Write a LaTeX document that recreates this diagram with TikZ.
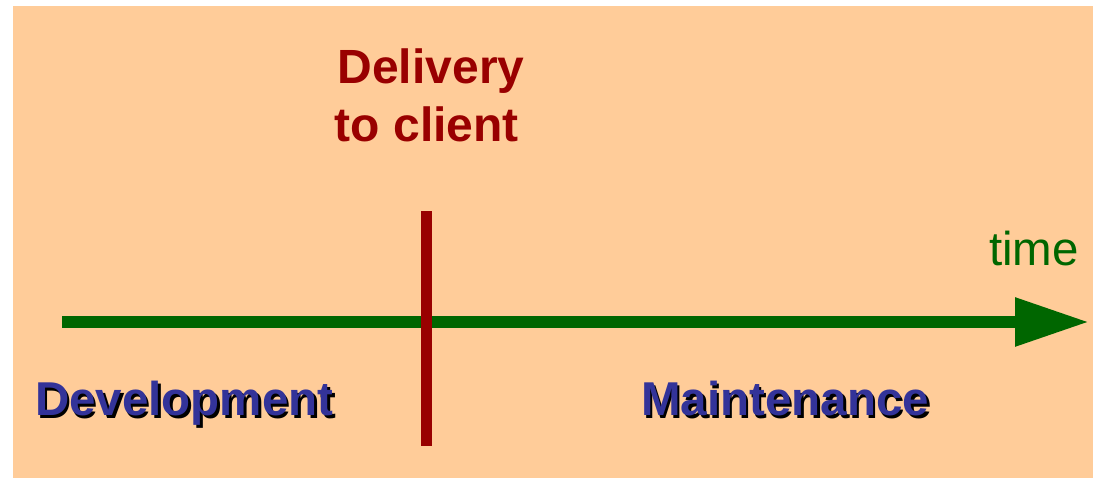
\documentclass[tikz,border=0pt]{standalone}
\usepackage{fontspec}
\setmainfont{Liberation Sans}
\usetikzlibrary{arrows.meta}

\definecolor{peach}{HTML}{FFCC99}
\definecolor{timegreen}{HTML}{006600}
\definecolor{deliveryred}{HTML}{990000}
\definecolor{phaseblue}{HTML}{333399}

% phase label with a black drop shadow behind it
\newcommand{\phasetext}[3]{%
  \node[phase,black,xshift=2.5pt,yshift=-2.5pt] at (#2) {#3};
  \node[phase,phaseblue] (#1) at (#2) {#3};}

\begin{document}
\begin{tikzpicture}[x=1pt,y=-1pt,
  phase/.style={anchor=base west,inner sep=0pt,font=\fontsize{47.5}{47.5}\selectfont\bfseries},
  milestone/.style={anchor=base,inner sep=0pt,text=deliveryred,font=\fontsize{48}{48}\selectfont\bfseries}]
\useasboundingbox (0,0) rectangle (1093,478);
\fill[peach] (13,6) rectangle (1093,478);

% time axis
\coordinate (start) at (62,322);
\coordinate (tip) at (1089,322);
\draw[timegreen,line width=12pt,-{Triangle[length=74pt,width=46pt]}] (start) -- (tip);
\node[anchor=base west,inner sep=0pt,text=timegreen,font=\fontsize{47.5}{47.5}\selectfont]
  (time) at (989,265.7) {time};

% delivery milestone
\coordinate (deltop) at (426.5,211.5);
\coordinate (delbot) at (426.5,445.5);
\draw[deliveryred,line width=11.5pt] (deltop) -- (delbot);
\node[milestone] (delivery) at (431,83.3) {Delivery};
\node[milestone] (client) at (427,141.7) {to client};

% the two phases
\phasetext{devel}{35,416}{Development}
\phasetext{maint}{641,416}{Maintenance}
\end{tikzpicture}
\end{document}
